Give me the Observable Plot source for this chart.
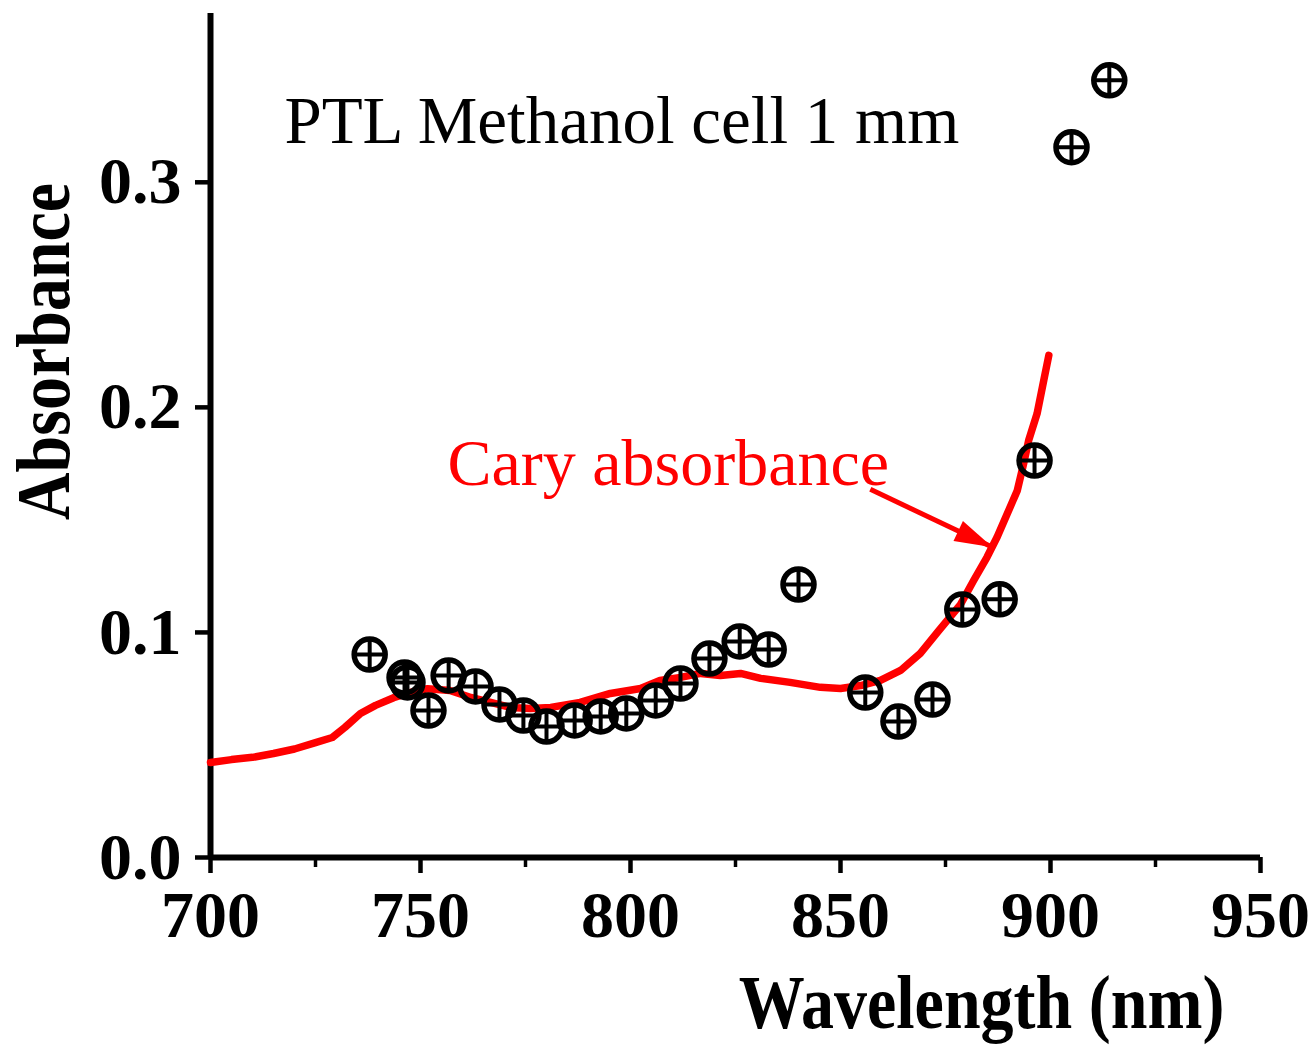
<!DOCTYPE html>
<html><head><meta charset="utf-8">
<script src="https://cdn.jsdelivr.net/npm/d3@7"></script>
<script src="https://cdn.jsdelivr.net/npm/@observablehq/plot@0.6"></script>
<style>body{margin:0;background:#fff} svg{display:block}</style>
</head><body><div id="chart"></div>
<script>
// Cary absorbance spectrum (red curve)
const curveWavelength = [700, 705, 710, 715, 720, 725, 729, 732, 735.7, 739.3, 743.6, 747.6, 751.7, 757, 762, 766.7, 771.4, 776.2, 781, 788, 795.2, 802.4, 807, 811.9, 816.7, 821.4, 826.2, 831, 838, 845.2, 850, 854.8, 859.5, 864.3, 869, 873.5, 878.6, 881.7, 884.9, 887.3, 889.7, 892.1, 893.6, 894.8, 896.8, 898.4, 899.6];
const curveAbsorbance = [0.0422, 0.0435, 0.0445, 0.0462, 0.0482, 0.0510, 0.0533, 0.0578, 0.0640, 0.0676, 0.0710, 0.0733, 0.0750, 0.0742, 0.0711, 0.0689, 0.0667, 0.0662, 0.0667, 0.0689, 0.0729, 0.0751, 0.0787, 0.0800, 0.0818, 0.0809, 0.0818, 0.0796, 0.0778, 0.0756, 0.0751, 0.0764, 0.0787, 0.0831, 0.0907, 0.1010, 0.1125, 0.1231, 0.1335, 0.1424, 0.1527, 0.1631, 0.1750, 0.1853, 0.1972, 0.2120, 0.2231];

// PTL measurement points (circle-plus markers)
const pointWavelength = [737.9, 746.2, 746.9, 751.9, 756.7, 763.1, 768.8, 774.5, 780.0, 786.7, 792.9, 799.0, 806.0, 811.9, 818.8, 826.0, 832.9, 840.0, 855.9, 863.8, 871.9, 879.0, 887.9, 896.2, 905.0, 914.0];
const pointAbsorbance = [0.0902, 0.0800, 0.0778, 0.0653, 0.0809, 0.0760, 0.0680, 0.0631, 0.0582, 0.0609, 0.0627, 0.0640, 0.0698, 0.0773, 0.0884, 0.0960, 0.0924, 0.1213, 0.0733, 0.0604, 0.0702, 0.1102, 0.1147, 0.1764, 0.3156, 0.3453];

// Axes
const xTicks = [700, 750, 800, 850, 900, 950];
const xMinorTicks = [725, 775, 825, 875, 925];
const yTicks = [0, 0.1, 0.2, 0.3];
const xDomain = [700, 950];
const yDomain = [0, 0.375];
const xLabel = "Wavelength (nm)";
const yLabel = "Absorbance";

// Annotations
const titleText = ["PTL Methanol cell 1 mm"];
const titleWavelength = [717.6];
const titleAbsorbance = [0.3173];
const curveLabelText = ["Cary absorbance"];
const curveLabelWavelength = [756.4];
const curveLabelAbsorbance = [0.1653];
const arrowFrom = [857.1, 0.1636];
const arrowTo = [886.2, 0.1378];

const curve = curveWavelength.map((x, i) => ({x, y: curveAbsorbance[i]}));
const points = pointWavelength.map((x, i) => ({x, y: pointAbsorbance[i]}));
const title = titleText.map((t, i) => ({t, x: titleWavelength[i], y: titleAbsorbance[i]}));
const curveLabel = curveLabelText.map((t, i) => ({t, x: curveLabelWavelength[i], y: curveLabelAbsorbance[i]}));
const arrow = [{x1: arrowFrom[0], y1: arrowFrom[1], x2: arrowTo[0], y2: arrowTo[1]}];

const serif = "'Liberation Serif', 'Times New Roman', Times, serif";
const RED = "#ff0000";

const ring = {
  draw(ctx, size) {
    const r = Math.sqrt(size / Math.PI);
    ctx.moveTo(r, 0);
    ctx.arc(0, 0, r, 0, 2 * Math.PI);
  }
};
const cross = {
  draw(ctx, size) {
    const r = Math.sqrt(size / Math.PI);
    ctx.moveTo(-r, 0); ctx.lineTo(r, 0);
    ctx.moveTo(0, -r); ctx.lineTo(0, r);
  }
};
const arrowHead = {
  draw(ctx) {
    ctx.moveTo(0, 0);
    ctx.lineTo(-38, -11);
    ctx.lineTo(-38, 11);
    ctx.closePath();
  }
};

const plot = Plot.plot({
  width: 1315,
  height: 1045,
  marginLeft: 210,
  marginRight: 55,
  marginTop: 13,
  marginBottom: 188,
  style: {background: "#fff", fontFamily: serif, color: "black"},
  x: {domain: xDomain},
  y: {domain: yDomain},
  marks: [
    Plot.axisX(xMinorTicks, {tickSize: 10, strokeWidth: 3.5, tickFormat: () => "", label: null}),
    Plot.axisX(xTicks, {tickSize: 16, strokeWidth: 4.5, tickPadding: 17, fontSize: 66, fontWeight: "bold", fontFamily: serif, label: null}),
    Plot.axisY(yTicks, {tickSize: 15, strokeWidth: 4.5, tickPadding: 14, fontSize: 66, fontWeight: "bold", fontFamily: serif, tickFormat: d3.format(".1f"), label: null}),
    Plot.ruleY([0], {x1: xDomain[0], x2: xDomain[1], strokeWidth: 6}),
    Plot.ruleX([700], {y1: yDomain[0], y2: yDomain[1], strokeWidth: 6}),
    Plot.line(curve, {x: "x", y: "y", stroke: RED, strokeWidth: 7.5, curve: "linear"}),
    Plot.link(arrow, {x1: "x1", y1: "y1", x2: "x2", y2: "y2", stroke: RED, strokeWidth: 5}),
    Plot.dot(arrow, {x: "x2", y: "y2", symbol: arrowHead, r: 10, fill: RED, stroke: "none", rotate: 25.4}),
    Plot.dot(points, {x: "x", y: "y", r: 15.5, symbol: ring, stroke: "black", fill: "none", strokeWidth: 5.5, style: {strokeWidth: "5.5px"}}),
    Plot.dot(points, {x: "x", y: "y", r: 15.5, symbol: cross, stroke: "black", fill: "none", strokeWidth: 4, style: {strokeWidth: "4px"}}),
    Plot.text(title, {x: "x", y: "y", text: "t", textAnchor: "start", lineAnchor: "bottom", fontSize: 67, fontFamily: serif, fill: "black"}),
    Plot.text(curveLabel, {x: "x", y: "y", text: "t", textAnchor: "start", lineAnchor: "bottom", fontSize: 66, fontFamily: serif, fill: RED}),
    Plot.text([xLabel], {frameAnchor: "bottom", text: d => d, textAnchor: "middle", lineAnchor: "bottom", dx: 246, dy: 170, fontSize: 66, fontWeight: "bold", fontFamily: serif, fill: "black"}),
    Plot.text([yLabel], {frameAnchor: "left", text: d => d, rotate: -90, textAnchor: "middle", lineAnchor: "bottom", dx: -142, dy: -84, fontSize: 66, fontWeight: "bold", fontFamily: serif, fill: "black"})
  ]
});
document.getElementById("chart").appendChild(plot);

// Bold axis titles in the reference are drawn slightly taller than wide
d3.select(plot).selectAll("text").each(function() {
  const s = this.textContent;
  if (s === xLabel || s === yLabel) {
    const t = this.getAttribute("transform") || "";
    this.setAttribute("transform", t + " scale(1,1.15)");
  }
});
</script>
</body></html>
